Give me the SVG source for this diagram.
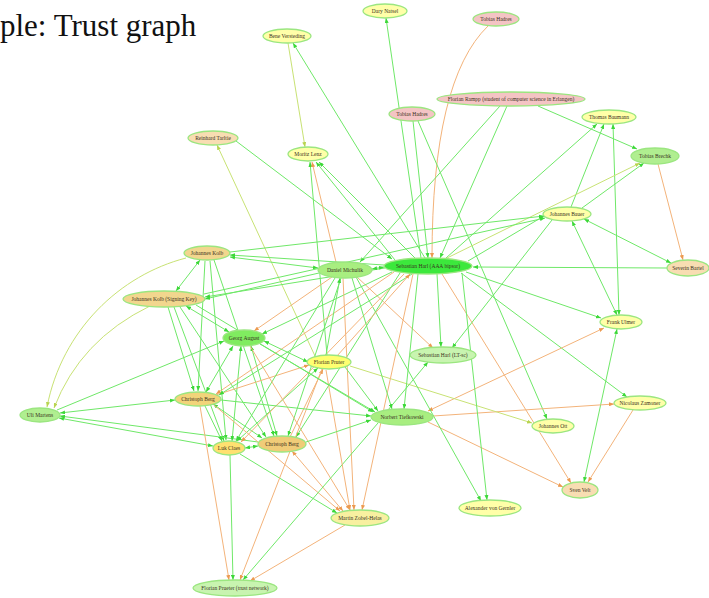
<svg xmlns="http://www.w3.org/2000/svg" width="709" height="598" viewBox="0 0 709 598">
<style>
.e line,.e path{fill:none;stroke-width:1}
.g{stroke:#6fe868;marker-end:url(#mg)}
.o{stroke:#f3b37a;marker-end:url(#mo)}
.y{stroke:#c8e274;marker-end:url(#my)}
.g.b{marker-start:url(#mg)}
.o.b{marker-start:url(#mo)}
.y.b{marker-start:url(#my)}
.n ellipse{stroke:#9be680;stroke-width:1.3}
.n text{font-family:"Liberation Serif","Times New Roman",serif;font-size:5.5px;fill:#3a3020;text-anchor:middle}
.yl{fill:#ffffa8}.py{fill:#ffff70}.pk{fill:#f4c4c4}.pc{fill:#f8ddb2}.tn{fill:#f2d68e}
.gr{fill:#a8ee80}.lg{fill:#c8f4b0}.bg{fill:#3ce83c}
</style>
<defs>
<marker id="mg" viewBox="0 0 10 8" refX="10" refY="4" markerWidth="5" markerHeight="4" markerUnits="userSpaceOnUse" orient="auto-start-reverse"><path d="M0,0L10,4L0,8z" fill="#3cd838"/></marker>
<marker id="mo" viewBox="0 0 10 8" refX="10" refY="4" markerWidth="5" markerHeight="4" markerUnits="userSpaceOnUse" orient="auto-start-reverse"><path d="M0,0L10,4L0,8z" fill="#ec9a50"/></marker>
<marker id="my" viewBox="0 0 10 8" refX="10" refY="4" markerWidth="5" markerHeight="4" markerUnits="userSpaceOnUse" orient="auto-start-reverse"><path d="M0,0L10,4L0,8z" fill="#b8d450"/></marker>
</defs>
<rect width="709" height="598" fill="#ffffff"/>
<text x="0" y="36" font-family="'Liberation Serif','Times New Roman',serif" font-size="31" fill="#111">ple: Trust graph</text>
<g id="edges" class="e">
<line class="g" x1="421" y1="258" x2="386" y2="18"/>
<path class="o" d="M488 26 Q432 80 432 258"/>
<line class="y" x1="288" y1="43" x2="305" y2="147"/>
<line class="g" x1="425" y1="258" x2="293" y2="43"/>
<line class="g" x1="413" y1="121" x2="428" y2="258"/>
<line class="g" x1="418" y1="121" x2="547" y2="419"/>
<line class="g" x1="538" y1="106" x2="637" y2="149"/>
<line class="g" x1="500" y1="106" x2="360" y2="262"/>
<line class="g" x1="507" y1="106" x2="440" y2="258"/>
<line class="g" x1="446" y1="258" x2="597" y2="124"/>
<line class="g" x1="571" y1="207" x2="604" y2="124"/>
<line class="g b" x1="613" y1="124" x2="619" y2="315"/>
<line class="y" x1="445" y1="259" x2="640" y2="163"/>
<line class="g" x1="582" y1="208" x2="644" y2="163"/>
<line class="o" x1="658" y1="164" x2="683" y2="260"/>
<line class="g b" x1="584" y1="219" x2="671" y2="263"/>
<line class="g" x1="468" y1="261" x2="544" y2="216"/>
<line class="g b" x1="572" y1="221" x2="617" y2="315"/>
<line class="g" x1="667" y1="268" x2="473" y2="267"/>
<line class="g" x1="466" y1="272" x2="601" y2="318"/>
<line class="g" x1="461" y1="273" x2="627" y2="397"/>
<line class="g b" x1="617" y1="329" x2="584" y2="482"/>
<line class="o b" x1="604" y1="328" x2="428" y2="411"/>
<line class="o" x1="442" y1="274" x2="571" y2="483"/>
<line class="o" x1="633" y1="410" x2="588" y2="482"/>
<line class="o" x1="433" y1="416" x2="614" y2="404"/>
<line class="y" x1="350" y1="366" x2="532" y2="423"/>
<line class="o" x1="428" y1="422" x2="563" y2="487"/>
<line class="g" x1="462" y1="273" x2="487" y2="500"/>
<line class="g" x1="356" y1="277" x2="481" y2="501"/>
<line class="g" x1="388" y1="410" x2="428" y2="362"/>
<line class="g" x1="437" y1="274" x2="441" y2="347"/>
<line class="o" x1="357" y1="277" x2="433" y2="348"/>
<line class="g" x1="552" y1="220" x2="452" y2="348"/>
<line class="y" x1="315" y1="356" x2="217" y2="145"/>
<line class="g" x1="236" y1="141" x2="392" y2="259"/>
<line class="g" x1="327" y1="355" x2="310" y2="162"/>
<line class="o" x1="336" y1="262" x2="312" y2="162"/>
<line class="g" x1="395" y1="260" x2="316" y2="162"/>
<line class="g" x1="415" y1="258" x2="319" y2="162"/>
<line class="g" x1="384" y1="265" x2="230" y2="255"/>
<line class="g b" x1="230" y1="257" x2="318" y2="268"/>
<line class="g" x1="385" y1="268" x2="205" y2="297"/>
<line class="g" x1="319" y1="273" x2="205" y2="299"/>
<line class="g b" x1="200" y1="260" x2="176" y2="291"/>
<line class="g" x1="205" y1="261" x2="198" y2="391"/>
<line class="g" x1="210" y1="261" x2="226" y2="440"/>
<line class="g" x1="214" y1="260" x2="274" y2="436"/>
<line class="g" x1="168" y1="307" x2="194" y2="391"/>
<line class="g" x1="174" y1="307" x2="224" y2="441"/>
<line class="g" x1="180" y1="307" x2="266" y2="437"/>
<line class="g b" x1="186" y1="306" x2="229" y2="332"/>
<line class="g" x1="57" y1="410" x2="224" y2="341"/>
<line class="g b" x1="60" y1="413" x2="175" y2="400"/>
<line class="g b" x1="59" y1="418" x2="213" y2="446"/>
<line class="g" x1="258" y1="442" x2="60" y2="416"/>
<path class="y" d="M186 258 C120 275 62 330 47 407"/>
<path class="y" d="M150 306 Q80 340 54 408"/>
<line class="g b" x1="233" y1="346" x2="206" y2="392"/>
<line class="g b" x1="241" y1="346" x2="232" y2="441"/>
<line class="g b" x1="251" y1="346" x2="277" y2="436"/>
<line class="g" x1="205" y1="406" x2="222" y2="441"/>
<line class="g b" x1="213" y1="404" x2="262" y2="438"/>
<line class="g b" x1="245" y1="448" x2="258" y2="446"/>
<line class="o" x1="216" y1="395" x2="309" y2="365"/>
<line class="o" x1="332" y1="277" x2="254" y2="331"/>
<line class="g" x1="392" y1="272" x2="262" y2="334"/>
<line class="g b" x1="237" y1="441" x2="318" y2="368"/>
<line class="o" x1="290" y1="437" x2="323" y2="369"/>
<line class="g" x1="335" y1="278" x2="236" y2="441"/>
<line class="g" x1="341" y1="278" x2="288" y2="436"/>
<line class="g" x1="400" y1="273" x2="296" y2="437"/>
<line class="o" x1="404" y1="274" x2="241" y2="442"/>
<line class="o" x1="394" y1="272" x2="216" y2="394"/>
<line class="g" x1="412" y1="274" x2="219" y2="395"/>
<line class="o b" x1="292" y1="451" x2="343" y2="511"/>
<line class="g" x1="240" y1="454" x2="337" y2="513"/>
<line class="o" x1="214" y1="405" x2="340" y2="511"/>
<line class="o" x1="250" y1="346" x2="350" y2="510"/>
<line class="o" x1="343" y1="278" x2="354" y2="510"/>
<line class="o" x1="413" y1="274" x2="362" y2="510"/>
<line class="g" x1="378" y1="423" x2="243" y2="580"/>
<line class="g" x1="230" y1="455" x2="233" y2="580"/>
<line class="o" x1="200" y1="406" x2="229" y2="580"/>
<line class="o" x1="345" y1="525" x2="250" y2="581"/>
<line class="o" x1="322" y1="369" x2="240" y2="580"/>
<line class="g" x1="326" y1="355" x2="340" y2="278"/>
<line class="o" x1="337" y1="356" x2="410" y2="274"/>
<line class="o" x1="326" y1="370" x2="350" y2="510"/>
<line class="g" x1="345" y1="367" x2="378" y2="411"/>
<line class="g b" x1="264" y1="341" x2="308" y2="362"/>
<line class="g" x1="260" y1="344" x2="375" y2="412"/>
<line class="g" x1="221" y1="400" x2="371" y2="416"/>
<line class="g" x1="306" y1="442" x2="371" y2="420"/>
<line class="g" x1="196" y1="305" x2="373" y2="412"/>
<line class="g b" x1="372" y1="269" x2="384" y2="267"/>
<line class="g" x1="418" y1="274" x2="404" y2="409"/>
<line class="g" x1="352" y1="278" x2="392" y2="409"/>
<line class="g" x1="230" y1="252" x2="544" y2="216"/>
<line class="g" x1="204" y1="294" x2="545" y2="218"/>
</g>
<g id="n-dn" class="n"><ellipse class="yl" cx="385" cy="11" rx="22" ry="7"/><text x="385" y="13">Dary Natsel</text></g>
<g id="n-th1" class="n"><ellipse class="pk" cx="496" cy="19" rx="23" ry="7"/><text x="496" y="21">Tobias Hadres</text></g>
<g id="n-bv" class="n"><ellipse class="yl" cx="287" cy="36" rx="24" ry="7"/><text x="287" y="38">Bene Versteding</text></g>
<g id="n-fr" class="n"><ellipse class="pk" cx="511" cy="99" rx="74" ry="7"/><text x="511" y="101">Florian Rampp (student of computer science in Erlangen)</text></g>
<g id="n-th2" class="n"><ellipse class="pk" cx="412" cy="114" rx="23" ry="7"/><text x="412" y="116">Tobias Hadres</text></g>
<g id="n-tb" class="n"><ellipse class="yl" cx="609" cy="117" rx="27" ry="7"/><text x="609" y="119">Thomas Baumann</text></g>
<g id="n-rt" class="n"><ellipse class="pc" cx="213" cy="138" rx="25" ry="7"/><text x="213" y="140">Reinhard Tarltie</text></g>
<g id="n-ml" class="n"><ellipse class="yl" cx="308" cy="154" rx="20" ry="7"/><text x="308" y="156">Moritz Lenz</text></g>
<g id="n-tbr" class="n"><ellipse fill="#b0ee90" cx="655" cy="156" rx="24" ry="8"/><text x="655" y="158">Tobias Brechk</text></g>
<g id="n-jb" class="n"><ellipse class="yl" cx="567" cy="214" rx="24" ry="7"/><text x="567" y="216">Johannes Bauer</text></g>
<g id="n-jk" class="n"><ellipse class="tn" cx="207" cy="253" rx="23" ry="7"/><text x="207" y="255">Johannes Kolb</text></g>
<g id="n-dm" class="n"><ellipse class="gr" cx="345" cy="270" rx="27" ry="8"/><text x="345" y="272">Daniel Michulik</text></g>
<g id="n-sh" class="n"><ellipse class="bg" cx="428" cy="266" rx="44" ry="8"/><text x="428" y="268">Sebastian Harl (AAA bipsor)</text></g>
<g id="n-sb" class="n"><ellipse class="pc" cx="688" cy="268" rx="21" ry="8"/><text x="688" y="270">Severin Bartel</text></g>
<g id="n-jks" class="n"><ellipse class="tn" cx="164" cy="299" rx="41" ry="8"/><text x="164" y="301">Johannes Kolb (Signing Key)</text></g>
<g id="n-ga" class="n"><ellipse fill="#80ec60" cx="244" cy="338" rx="21" ry="8"/><text x="244" y="340">Georg August</text></g>
<g id="n-fu" class="n"><ellipse class="yl" cx="621" cy="322" rx="21" ry="7"/><text x="621" y="324">Frank Ulmer</text></g>
<g id="n-fp" class="n"><ellipse class="py" cx="329" cy="362" rx="22" ry="7"/><text x="329" y="364">Florian Pruter</text></g>
<g id="n-shl" class="n"><ellipse class="lg" cx="443" cy="355" rx="33" ry="8"/><text x="443" y="357">Sebastian Harl (LT-sc)</text></g>
<g id="n-cb1" class="n"><ellipse fill="#f2d47a" cx="198" cy="399" rx="23" ry="7"/><text x="198" y="401">Christoph Berg</text></g>
<g id="n-um" class="n"><ellipse fill="#b0ee90" cx="40" cy="415" rx="20" ry="7"/><text x="40" y="417">Uli Martens</text></g>
<g id="n-nt" class="n"><ellipse class="gr" cx="402" cy="417" rx="31" ry="8"/><text x="402" y="419">Norbert Tiefkowski</text></g>
<g id="n-nz" class="n"><ellipse class="yl" cx="640" cy="403" rx="26" ry="7"/><text x="640" y="405">Nicolaus Zamoner</text></g>
<g id="n-jo" class="n"><ellipse class="yl" cx="553" cy="426" rx="21" ry="7"/><text x="553" y="428">Johannes Ott</text></g>
<g id="n-lc" class="n"><ellipse fill="#ffe070" cx="229" cy="448" rx="16" ry="7"/><text x="229" y="450">Luk Claes</text></g>
<g id="n-cb2" class="n"><ellipse fill="#f0cc78" cx="282" cy="444" rx="24" ry="8"/><text x="282" y="446">Christoph Berg</text></g>
<g id="n-sv" class="n"><ellipse class="pc" cx="580" cy="490" rx="18" ry="8"/><text x="580" y="492">Sven Velt</text></g>
<g id="n-ag" class="n"><ellipse class="yl" cx="490" cy="508" rx="31" ry="8"/><text x="490" y="510">Alexander von Gernler</text></g>
<g id="n-mz" class="n"><ellipse fill="#f8f0a0" cx="360" cy="518" rx="29" ry="8"/><text x="360" y="520">Martin Zobel-Helas</text></g>
<g id="n-fpt" class="n"><ellipse class="lg" cx="235" cy="588" rx="42" ry="8"/><text x="235" y="590">Florian Prueter (trust network)</text></g>
</svg>
